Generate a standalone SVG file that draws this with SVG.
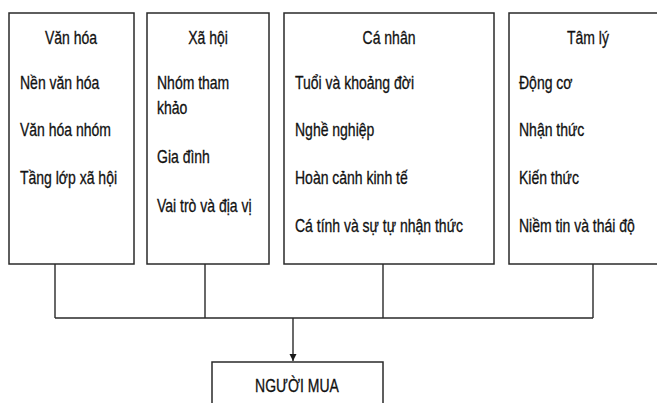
<svg xmlns="http://www.w3.org/2000/svg" width="657" height="403" viewBox="0 0 657 403">
<defs>
<style>
.box{fill:#fff;stroke:#2a2a2a;stroke-width:1.5}
.t{font-family:"Liberation Sans",Arial,sans-serif;font-size:17.5px;fill:#111;stroke:#111;stroke-width:0.3}
.h{text-anchor:middle}
.c{fill:none;stroke:#2a2a2a;stroke-width:1.4}
</style>
<marker id="arr" viewBox="0 0 10 10" refX="10" refY="5" markerWidth="7" markerHeight="8" markerUnits="userSpaceOnUse" orient="auto">
<path d="M0,0 L10,5 L0,10 z" fill="#1a1a1a"/>
</marker>
</defs>
<rect width="657" height="403" fill="#fff"/>
<g id="connectors">
<path class="c" d="M55,264 V318 M205,264 V318 M383,264 V318 M593,264 V318 M55,318 H593"/>
<path class="c" d="M293,318 V361" marker-end="url(#arr)"/>
</g>
<g id="van-hoa">
<rect class="box" x="9" y="13" width="125" height="251"/>
<text class="t h" transform="translate(71,44) scale(0.8,1)">Văn hóa</text>
<text class="t" transform="translate(20,89) scale(0.8,1)">Nền văn hóa</text>
<text class="t" transform="translate(20,136) scale(0.8,1)">Văn hóa nhóm</text>
<text class="t" transform="translate(20,184) scale(0.8,1)">Tầng lớp xã hội</text>
</g>
<g id="xa-hoi">
<rect class="box" x="147" y="13" width="122" height="251"/>
<text class="t h" transform="translate(208,44) scale(0.8,1)">Xã hội</text>
<text class="t" transform="translate(157,89) scale(0.8,1)">Nhóm tham</text>
<text class="t" transform="translate(157,114) scale(0.8,1)">khảo</text>
<text class="t" transform="translate(157,163) scale(0.8,1)">Gia đình</text>
<text class="t" transform="translate(157,212) scale(0.8,1)">Vai trò và địa vị</text>
</g>
<g id="ca-nhan">
<rect class="box" x="284" y="13" width="210" height="251"/>
<text class="t h" transform="translate(389,44) scale(0.8,1)">Cá nhân</text>
<text class="t" transform="translate(295,89) scale(0.8,1)">Tuổi và khoảng đời</text>
<text class="t" transform="translate(295,136) scale(0.8,1)">Nghề nghiệp</text>
<text class="t" transform="translate(295,184) scale(0.8,1)">Hoàn cảnh kinh tế</text>
<text class="t" transform="translate(295,232) scale(0.8,1)">Cá tính và sự tự nhận thức</text>
</g>
<g id="tam-ly">
<rect class="box" x="509" y="13" width="260" height="251"/>
<text class="t h" transform="translate(588,44) scale(0.8,1)">Tâm lý</text>
<text class="t" transform="translate(519,89) scale(0.8,1)">Động cơ</text>
<text class="t" transform="translate(519,136) scale(0.8,1)">Nhận thức</text>
<text class="t" transform="translate(519,184) scale(0.8,1)">Kiến thức</text>
<text class="t" transform="translate(519,232) scale(0.8,1)">Niềm tin và thái độ</text>
</g>
<g id="nguoi-mua">
<rect class="box" x="212" y="362" width="171" height="60"/>
<text class="t h" transform="translate(297,392) scale(0.8,1)">NGƯỜI MUA</text>
</g>
</svg>
